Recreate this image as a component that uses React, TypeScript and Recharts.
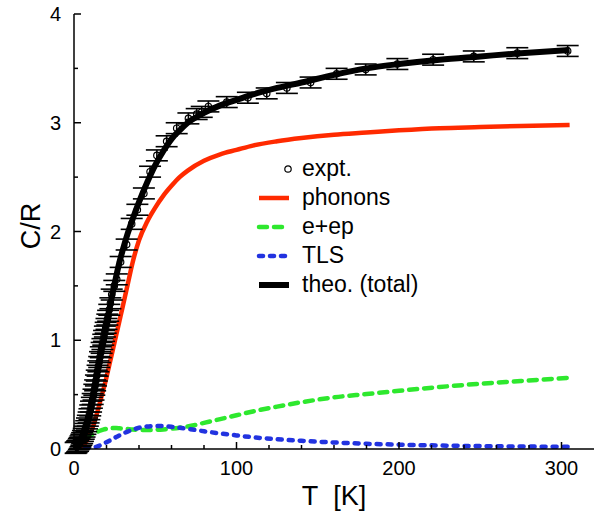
import { ComposedChart, Line, Scatter, ErrorBar, XAxis, YAxis } from "recharts";

const FONT = "'Liberation Sans', Arial, Helvetica, sans-serif";

// model curves, sampled on a common temperature grid (K)
const curveT = [0, 2, 4, 6, 8, 10, 12, 14, 16, 18, 20, 22, 24, 26, 28, 30, 33, 36, 40, 45, 50, 55, 60, 65, 70, 80, 90, 100, 110, 125, 140, 160, 180, 200, 225, 250, 275, 305];
const phonons = [0, 0.003, 0.012, 0.035, 0.08, 0.14, 0.22, 0.32, 0.43, 0.54, 0.66, 0.79, 0.92, 1.05, 1.18, 1.31, 1.51, 1.71, 1.92, 2.09, 2.22, 2.33, 2.42, 2.5, 2.56, 2.65, 2.71, 2.75, 2.79, 2.83, 2.86, 2.89, 2.91, 2.93, 2.95, 2.96, 2.97, 2.98];
const eep = [0, 0.025, 0.05, 0.075, 0.1, 0.12, 0.14, 0.155, 0.168, 0.178, 0.185, 0.19, 0.192, 0.192, 0.19, 0.187, 0.183, 0.179, 0.176, 0.175, 0.176, 0.18, 0.187, 0.196, 0.207, 0.24, 0.275, 0.31, 0.345, 0.39, 0.43, 0.475, 0.505, 0.535, 0.57, 0.6, 0.625, 0.655];
const tls = [0, 0, 0, 0.001, 0.004, 0.008, 0.014, 0.022, 0.033, 0.047, 0.062, 0.078, 0.095, 0.11, 0.125, 0.14, 0.16, 0.178, 0.195, 0.207, 0.212, 0.21, 0.204, 0.195, 0.185, 0.163, 0.143, 0.125, 0.108, 0.09, 0.075, 0.06, 0.048, 0.04, 0.032, 0.027, 0.023, 0.02];
const total = [0, 0.02, 0.07, 0.14, 0.23, 0.35, 0.5, 0.67, 0.84, 1.0, 1.15, 1.3, 1.45, 1.59, 1.72, 1.83, 1.98, 2.11, 2.27, 2.45, 2.61, 2.74, 2.85, 2.93, 3.0, 3.09, 3.16, 3.21, 3.26, 3.32, 3.37, 3.44, 3.5, 3.54, 3.58, 3.61, 3.64, 3.67];

// measured points
const exptT = [1, 1.5, 2, 2.5, 3, 3.5, 4, 4.5, 5, 5.5, 6, 6.5, 7, 7.5, 8, 8.5, 9, 9.5, 10, 10.5, 11, 11.5, 12, 12.5, 13, 13.5, 14, 14.5, 15, 15.5, 16, 16.5, 17, 17.5, 18, 18.5, 19, 19.5, 20, 20.5, 21, 21.7, 22.4, 23.2, 24.8, 26.3, 28.7, 32.4, 35.5, 39, 43, 46.8, 51, 57, 63.2, 70.4, 75.5, 78.6, 82.7, 94, 107, 118.6, 131, 145.6, 161.6, 179.5, 199, 221, 246, 272.8, 303.8];
const exptC = [0.01, 0.015, 0.025, 0.03, 0.045, 0.055, 0.07, 0.085, 0.1, 0.12, 0.14, 0.16, 0.185, 0.21, 0.235, 0.26, 0.29, 0.32, 0.355, 0.39, 0.425, 0.46, 0.5, 0.545, 0.585, 0.63, 0.675, 0.72, 0.76, 0.8, 0.845, 0.89, 0.93, 0.965, 1.005, 1.04, 1.08, 1.115, 1.15, 1.19, 1.225, 1.28, 1.34, 1.42, 1.5, 1.56, 1.72, 1.88, 2.07, 2.2, 2.35, 2.55, 2.7, 2.83, 2.95, 3.04, 3.08, 3.1, 3.15, 3.19, 3.23, 3.27, 3.32, 3.37, 3.45, 3.49, 3.54, 3.58, 3.61, 3.64, 3.66];
const exptErr = 0.05;

const xTicks = [0, 20, 40, 60, 80, 100, 120, 140, 160, 180, 200, 220, 240, 260, 280, 300];
const xLabels = [0, 100, 200, 300];
const yTicks = [0, 0.5, 1, 1.5, 2, 2.5, 3, 3.5, 4];
const yLabels = [0, 1, 2, 3, 4];

const curveRows = curveT.map((t, i) => ({
  t,
  phonons: phonons[i],
  eep: eep[i],
  tls: tls[i],
  total: total[i],
}));
const exptRows = exptT.map((t, i) => ({ t, c: exptC[i], err: exptErr }));

const series = [
  { key: "phonons", name: "phonons", color: "#ff2a00", width: 4.5, dash: undefined },
  { key: "eep", name: "e+ep", color: "#2ee82e", width: 4.5, dash: "8 7" },
  { key: "tls", name: "TLS", color: "#2233e0", width: 4.5, dash: "4 7" },
  { key: "total", name: "theo. (total)", color: "#000000", width: 6, dash: undefined },
];

function BottomTick({ x, y, payload }: any) {
  const major = xLabels.includes(payload.value);
  return (
    <g>
      <line x1={x} x2={x} y1={y} y2={y - (major ? 7 : 4)} stroke="#000" strokeWidth={1.5} />
      {major && (
        <text x={x} y={y + 26} textAnchor="middle" fontSize={20} fontFamily={FONT} fill="#000">
          {payload.value}
        </text>
      )}
    </g>
  );
}

function TopTick({ x, y, payload }: any) {
  const major = xLabels.includes(payload.value);
  return <line x1={x} x2={x} y1={y} y2={y + (major ? 7 : 4)} stroke="#000" strokeWidth={1.5} />;
}

function LeftTick({ x, y, payload }: any) {
  const major = yLabels.includes(payload.value);
  return (
    <g>
      <line x1={x} x2={x + (major ? 7 : 4)} y1={y} y2={y} stroke="#000" strokeWidth={1.5} />
      {major && (
        <text x={x - 13} y={y + 7} textAnchor="end" fontSize={20} fontFamily={FONT} fill="#000">
          {payload.value}
        </text>
      )}
    </g>
  );
}

function RightTick({ x, y, payload }: any) {
  const major = yLabels.includes(payload.value);
  return <line x1={x} x2={x - (major ? 7 : 4)} y1={y} y2={y} stroke="#000" strokeWidth={1.5} />;
}

function XTitle() {
  return (
    <text x={334} y={505} textAnchor="middle" fontSize={27} fontFamily={FONT} fill="#000">
      {"T\u00a0\u00a0[K]"}
    </text>
  );
}

function YTitle() {
  return (
    <text
      x={31}
      y={226}
      transform="rotate(-90 31 226)"
      textAnchor="middle"
      dominantBaseline="central"
      fontSize={27}
      fontFamily={FONT}
      fill="#000"
    >
      C/R
    </text>
  );
}

function ExptDot({ cx, cy }: any) {
  return <circle cx={cx} cy={cy} r={3.2} fill="none" stroke="#000" strokeWidth={1.2} />;
}

function LegendBox() {
  return (
    <div style={{ position: "absolute", left: 256, top: 154, fontFamily: FONT, fontSize: 23, color: "#000" }}>
      <div style={{ display: "flex", alignItems: "center", height: 29 }}>
        <svg width={36} height={12}>
          <circle cx={32} cy={6} r={3.2} fill="none" stroke="#000" strokeWidth={1.2} />
        </svg>
        <span style={{ marginLeft: 10 }}>expt.</span>
      </div>
      {series.map((s) => (
        <div key={s.key} style={{ display: "flex", alignItems: "center", height: 29 }}>
          <svg width={36} height={12}>
            <line
              x1={3}
              x2={33}
              y1={6}
              y2={6}
              stroke={s.color}
              strokeWidth={s.width}
              strokeDasharray={s.dash}
              strokeLinecap={s.dash ? "round" : "butt"}
            />
          </svg>
          <span style={{ marginLeft: 10 }}>{s.name}</span>
        </div>
      ))}
    </div>
  );
}

export default function App() {
  return (
    <div style={{ position: "absolute", left: 0, top: 0, width: 600, height: 512, background: "#fff" }}>
      <ComposedChart width={600} height={512} data={curveRows} margin={{ top: 14, right: 6, bottom: 0, left: 0 }}>
        <XAxis
          dataKey="t"
          type="number"
          domain={[0, 320]}
          ticks={xTicks}
          interval={0}
          tick={<BottomTick />}
          tickLine={false}
          tickSize={0}
          tickMargin={0}
          height={63}
          axisLine={{ stroke: "#000", strokeWidth: 1.5 }}
          label={<XTitle />}
          allowDataOverflow
        />
        <XAxis
          xAxisId="top"
          orientation="top"
          dataKey="t"
          type="number"
          domain={[0, 320]}
          ticks={xTicks}
          interval={0}
          tick={<TopTick />}
          tickLine={false}
          tickSize={0}
          tickMargin={0}
          height={0}
          axisLine={{ stroke: "#000", strokeWidth: 1.5 }}
          allowDataOverflow
        />
        <YAxis
          type="number"
          domain={[0, 4]}
          ticks={yTicks}
          interval={0}
          tick={<LeftTick />}
          tickLine={false}
          tickSize={0}
          tickMargin={0}
          width={74}
          axisLine={{ stroke: "#000", strokeWidth: 1.5 }}
          label={<YTitle />}
          allowDataOverflow
        />
        <YAxis
          yAxisId="right"
          orientation="right"
          type="number"
          domain={[0, 4]}
          ticks={yTicks}
          interval={0}
          tick={<RightTick />}
          tickLine={false}
          tickSize={0}
          tickMargin={0}
          width={0}
          axisLine={{ stroke: "#000", strokeWidth: 1.5 }}
          allowDataOverflow
        />
        {series.map((s) => (
          <Line
            key={s.key}
            dataKey={s.key}
            type="monotone"
            stroke={s.color}
            strokeWidth={s.width}
            strokeDasharray={s.dash}
            strokeLinecap={s.dash ? "round" : "butt"}
            dot={false}
            activeDot={false}
            isAnimationActive={false}
          />
        ))}
        <Scatter data={exptRows} dataKey="c" shape={<ExptDot />} isAnimationActive={false}>
          <ErrorBar dataKey="err" direction="y" width={11} stroke="#000" strokeWidth={1.6} />
        </Scatter>
      </ComposedChart>
      <LegendBox />
    </div>
  );
}
